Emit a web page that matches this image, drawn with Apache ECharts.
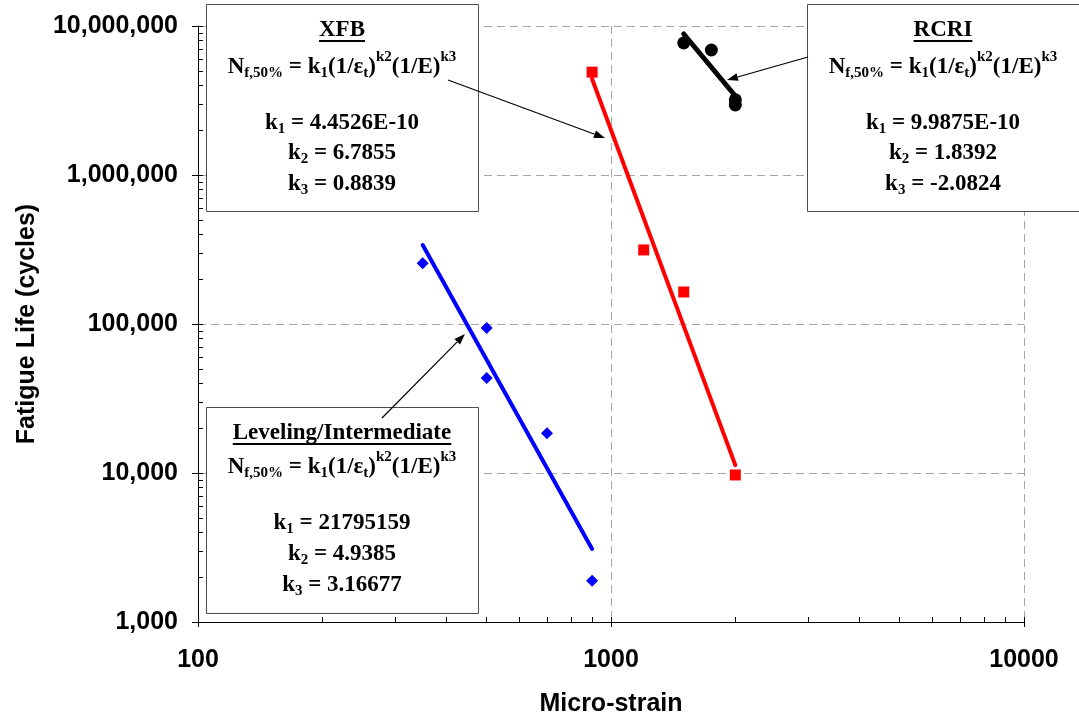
<!DOCTYPE html>
<html><head><meta charset="utf-8">
<script src="https://cdn.jsdelivr.net/npm/echarts@6/dist/echarts.min.js"></script>
<style>html,body{margin:0;padding:0;background:#fff;}#c{width:1079px;height:721px;}</style>
</head><body><div id="c"></div>
<script>
// ---- data ----
const strainLev = [350, 500, 500, 700, 900];
const lifeLev   = [256000, 94000, 43400, 18500, 1890];
const strainXFB = [900, 1200, 1500, 2000];
const lifeXFB   = [4900000, 314000, 164000, 9700];
const strainRCRI = [1500, 1750, 2000, 2000];
const lifeRCRI   = [7700000, 6900000, 3200000, 2950000];
// fitted lines (end points)
const fitLevStrain = [350, 900];
const fitLevLife   = [339000, 3090];
const fitXFBStrain = [900, 2000];
const fitXFBLife   = [4410000, 11300];
const fitRCRIStrain = [1500, 2000];
const fitRCRILife   = [8840000, 3390000];
// annotation arrow tips (data space)
const arrowTipStrain = [967, 1909, 443];
const arrowTipLife   = [1770000, 4340000, 85700];
// annotation texts
const boxTitles = ['XFB', 'RCRI', 'Leveling/Intermediate'];
const boxK1 = ['4.4526E-10', '9.9875E-10', '21795159'];
const boxK2 = ['6.7855', '1.8392', '4.9385'];
const boxK3 = ['0.8839', '-2.0824', '3.16677'];
const xName = 'Micro-strain';
const yName = 'Fatigue Life (cycles)';

const zip = (a, b) => a.map((v, i) => [v, b[i]]);
const SANS = '"Liberation Sans", Arial, sans-serif';
const SERIF = '"Liberation Serif", "Times New Roman", serif';
const commas = v => String(Math.round(v)).replace(/\B(?=(\d{3})+(?!\d))/g, ',');

const labelStyle = {fontSize: 25, fontWeight: 'bold', fontFamily: SANS, color: '#000'};
const splitStyle = {show: true, lineStyle: {color: '#a6a6a6', type: [8, 5], width: 1}};

const option = {
  backgroundColor: '#fff',
  animation: false,
  grid: {left: 198, right: 55, top: 26, bottom: 99, containLabel: false, outerBoundsMode: 'none'},
  xAxis: [
    {type: 'log', logBase: 10, min: 100, max: 10000, position: 'bottom',
     axisLine: {show: true, onZero: false, lineStyle: {color: '#000', width: 1}},
     axisTick: {show: true, inside: false, length: 5, lineStyle: {color: '#000'}},
     minorTick: {show: false},
     axisLabel: Object.assign({margin: 26, formatter: v => String(Math.round(v))}, labelStyle),
     splitLine: splitStyle,
     name: xName, nameLocation: 'middle', nameGap: 70,
     nameTextStyle: labelStyle},
    {type: 'log', logBase: 10, min: 100, max: 10000, position: 'bottom',
     axisLine: {show: false},
     axisTick: {show: true, inside: true, length: 5, lineStyle: {color: '#000'}},
     minorTick: {show: true, splitNumber: 9, length: 5, lineStyle: {color: '#000', width: 1}},
     axisLabel: {show: false}, splitLine: {show: false}}
  ],
  yAxis: [
    {type: 'log', logBase: 10, min: 1000, max: 10000000, position: 'left',
     axisLine: {show: true, onZero: false, lineStyle: {color: '#000', width: 1}},
     axisTick: {show: true, inside: false, length: 6, lineStyle: {color: '#000'}},
     minorTick: {show: false},
     axisLabel: Object.assign({margin: 20, formatter: commas}, labelStyle),
     splitLine: splitStyle,
     name: yName, nameLocation: 'middle', nameGap: 158, nameRotate: 90,
     nameTextStyle: labelStyle},
    {type: 'log', logBase: 10, min: 1000, max: 10000000, position: 'left',
     axisLine: {show: false},
     axisTick: {show: true, inside: true, length: 5, lineStyle: {color: '#000'}},
     minorTick: {show: true, splitNumber: 9, length: 5, lineStyle: {color: '#000', width: 1}},
     axisLabel: {show: false}, splitLine: {show: false}}
  ],
  series: [
    {type: 'scatter', data: zip(strainLev, lifeLev), symbol: 'diamond', symbolSize: 12,
     itemStyle: {color: '#0000ff', opacity: 1}},
    {type: 'scatter', data: zip(strainXFB, lifeXFB), symbol: 'rect', symbolSize: 11,
     itemStyle: {color: '#ff0000', opacity: 1}},
    {type: 'scatter', data: zip(strainRCRI, lifeRCRI), symbol: 'circle', symbolSize: 13,
     itemStyle: {color: '#000', opacity: 1}},
    {type: 'line', data: zip(fitLevStrain, fitLevLife), symbol: 'none',
     lineStyle: {color: '#0000ff', width: 4, cap: 'round'}},
    {type: 'line', data: zip(fitXFBStrain, fitXFBLife), symbol: 'none',
     lineStyle: {color: '#ff0000', width: 4, cap: 'round'}},
    {type: 'line', data: zip(fitRCRIStrain, fitRCRILife), symbol: 'none',
     lineStyle: {color: '#000', width: 5, cap: 'round'}}
  ]
};

const chart = echarts.init(document.getElementById('c'), null, {renderer: 'canvas'});
chart.setOption(option);

// ---- annotations ----
const rich = {
  m: {fontSize: 23, fontWeight: 'bold', fontFamily: SERIF, fill: '#000', color: '#000'},
  sub: {fontSize: 15, fontWeight: 'bold', fontFamily: SERIF, fill: '#000', color: '#000', padding: [12, 0, 0, 0]},
  sup: {fontSize: 15, fontWeight: 'bold', fontFamily: SERIF, fill: '#000', color: '#000', padding: [0, 0, 19, 0]}
};
const eqText = '{m|N}{sub|f,50%}{m| = k}{sub|1}{m|(1/ε}{sub|t}{m|)}{sup|k2}{m|(1/E)}{sup|k3}';
const kText = (i, v) => '{m|k}{sub|' + i + '}{m| = ' + v + '}';

const boxLayout = [
  {rect: [206, 4, 272, 207], cx: 342, rows: [30, 67, 123, 153, 184], from: [448, 80]},
  {rect: [807, 4, 272, 207], cx: 943, rows: [30, 67, 123, 153, 184], from: [808, 57]},
  {rect: [206, 407, 272, 206], cx: 342, rows: [433, 467, 523, 554, 585], from: [382, 418]}
];

const ctx = document.createElement('canvas').getContext('2d');
ctx.font = 'bold 23px ' + SERIF;

function textEl(x, y, t, z) {
  return {type: 'text', x: x, y: y, z: z,
    style: {text: t, rich: rich, align: 'center', verticalAlign: 'middle',
            textAlign: 'center', textVerticalAlign: 'middle',
            fontSize: 23, fontWeight: 'bold', fontFamily: SERIF, fill: '#000'}};
}
function arrowEls(x1, y1, x2, y2) {
  const a = Math.atan2(y2 - y1, x2 - x1), L = 11, W = 4;
  const c = Math.cos(a), s = Math.sin(a);
  const bx = x2 - L * c, by = y2 - L * s;
  return [
    {type: 'line', z: 20, shape: {x1: x1, y1: y1, x2: bx, y2: by},
     style: {stroke: '#000', lineWidth: 1.2}},
    {type: 'polygon', z: 20, shape: {points: [[x2, y2], [bx + W * s, by - W * c], [bx - W * s, by + W * c]]},
     style: {fill: '#000'}}
  ];
}

const els = [];
boxLayout.forEach((b, i) => {
  els.push({type: 'rect', z: 1, shape: {x: b.rect[0] + 0.5, y: b.rect[1] + 0.5, width: b.rect[2], height: b.rect[3]},
            style: {fill: '#fff', stroke: '#4d4d4d', lineWidth: 1}});
  els.push(textEl(b.cx, b.rows[0], '{m|' + boxTitles[i] + '}', 5));
  const w = ctx.measureText(boxTitles[i]).width;
  els.push({type: 'rect', z: 5, shape: {x: b.cx - w / 2, y: b.rows[0] + 10, width: w, height: 2}, style: {fill: '#000'}});
  els.push(textEl(b.cx, b.rows[1], eqText, 5));
  els.push(textEl(b.cx, b.rows[2], kText(1, boxK1[i]), 5));
  els.push(textEl(b.cx, b.rows[3], kText(2, boxK2[i]), 5));
  els.push(textEl(b.cx, b.rows[4], kText(3, boxK3[i]), 5));
  const tip = chart.convertToPixel({seriesIndex: 0}, [arrowTipStrain[i], arrowTipLife[i]]);
  arrowEls(b.from[0], b.from[1], tip[0], tip[1]).forEach(e => els.push(e));
});
chart.setOption({graphic: {elements: els}});
</script>
</body></html>
